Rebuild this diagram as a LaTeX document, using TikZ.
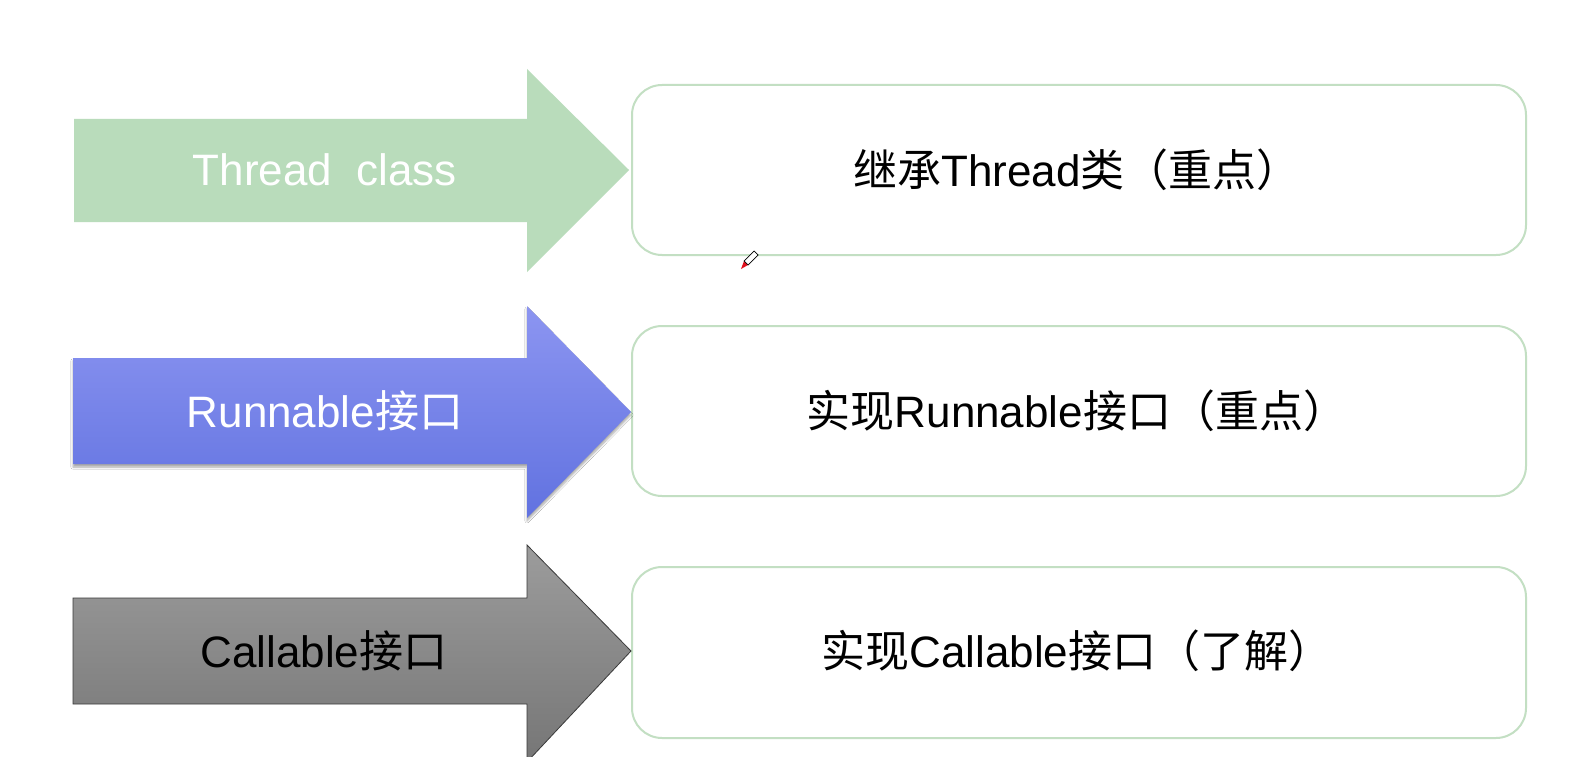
\documentclass[tikz,border=0pt]{standalone}
\usepackage{fontspec}
\setmainfont{Liberation Sans}
\newfontfamily\cjk{Noto Sans CJK SC}
\usetikzlibrary{shadows.blur}

\definecolor{greenfill}{HTML}{B9DCBB}
\definecolor{boxline}{HTML}{C3DFC3}
\definecolor{bluetop}{HTML}{8C95F1}
\definecolor{bluebot}{HTML}{6172E0}
\definecolor{greytop}{HTML}{9C9C9C}
\definecolor{greybot}{HTML}{767676}
\definecolor{greyline}{HTML}{3A3A3A}
\definecolor{pentip}{HTML}{E0101E}

\tikzset{
  bigtext/.style={font=\fontsize{44}{52}\selectfont, inner sep=0pt},
  boxtext/.style={font=\fontsize{44}{52}\selectfont, inner sep=0pt, text=black},
  optionbox/.style={draw=boxline, line width=2pt, rounded corners=30pt, fill=white},
  greenarrow/.style={fill=greenfill},
  bluearrow/.style={top color=bluetop, bottom color=bluebot,
    blur shadow={shadow xshift=0pt, shadow yshift=-3pt, shadow blur steps=6, shadow opacity=35}},
  greyarrow/.style={top color=greytop, bottom color=greybot, draw=greyline, line width=0.8pt},
}

% Arrow outline: left x, right end of body, tip x, body top/bottom, head top/bottom, mid y
\newcommand{\fatarrow}[8]{%
  (#1,#4) -- (#2,#4) -- (#2,#6) -- (#3,#8) -- (#2,#7) -- (#2,#5) -- (#1,#5) -- cycle}

\begin{document}
\begin{tikzpicture}[x=1pt, y=-1pt]
  \useasboundingbox (0,0) rectangle (1582,757);
  \fill[white] (0,0) rectangle (1582,757);

  % Option boxes on the right
  \draw[optionbox] (632,85) rectangle (1526,255);
  \draw[optionbox] (632,326) rectangle (1526,496);
  \draw[optionbox] (632,567) rectangle (1526,738);

  % Three block arrows on the left
  \path[greenarrow] \fatarrow{74}{527}{629}{119}{222}{69}{272}{170};
  \path[bluearrow] \fatarrow{73}{527}{631}{358}{464}{306}{518}{412};
  \path[greyarrow] \fatarrow{73}{527}{631}{598}{704}{545}{762}{651};

  % Arrow labels
  \node[bigtext, text=white] (thread) at (325,170) {Thread\ \ class};
  \node[bigtext, text=white] (runnable) at (325,411) {Runnable{\cjk 接口}};
  \node[bigtext, text=black] (callable) at (324,651) {Callable{\cjk 接口}};

  % Box labels
  \node[boxtext] (way1) at (1077,170) {{\cjk 继承}Thread{\cjk 类（重点）}};
  \node[boxtext] (way2) at (1077,411) {{\cjk 实现}Runnable{\cjk 接口（重点）}};
  \node[boxtext] (way3) at (1077,651) {{\cjk 实现}Callable{\cjk 接口（了解）}};

  % Small pen pointer below the first box
  \fill[pentip] (741,269) -- (744,261) -- (748,265) -- cycle;
  \draw[black, line width=0.7pt, fill=white] (744,261) -- (754,251) -- (758,255) -- (748,265) -- cycle;
\end{tikzpicture}
\end{document}
